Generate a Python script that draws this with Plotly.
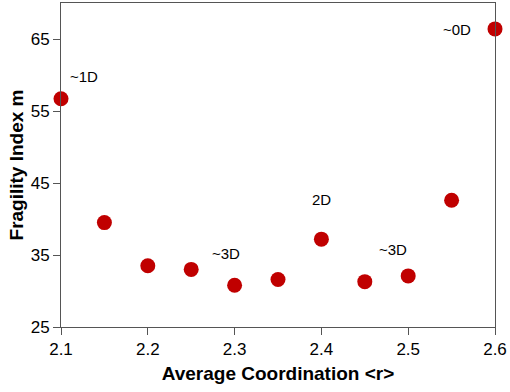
import plotly.graph_objects as go

coordination = [2.10, 2.15, 2.20, 2.25, 2.30, 2.35, 2.40, 2.45, 2.50, 2.55, 2.60]
fragility = [56.7, 39.5, 33.5, 33.0, 30.8, 31.6, 37.2, 31.3, 32.1, 42.6, 66.4]

label_text = ["~1D", "~0D", "2D", "~3D", "~3D"]
label_x = [2.1265, 2.556, 2.4003, 2.29, 2.483]
label_y = [59.8, 66.3, 42.7, 35.2, 35.8]

fig = go.Figure()
fig.add_trace(go.Scatter(
    x=coordination, y=fragility, mode="markers",
    marker=dict(size=15, color="#C00000", line=dict(width=0)),
    cliponaxis=False, showlegend=False,
))

for t, x, y in zip(label_text, label_x, label_y):
    fig.add_annotation(x=x, y=y, text=t, showarrow=False,
                       font=dict(family="Liberation Sans, Arial", size=15, color="black"))

fig.update_layout(
    width=510, height=392,
    margin=dict(l=61, r=15, t=3, b=65),
    paper_bgcolor="white", plot_bgcolor="white",
    font=dict(family="Liberation Sans, Arial", color="black"),
    xaxis=dict(
        range=[2.1, 2.6], tickvals=[2.1, 2.2, 2.3, 2.4, 2.5, 2.6],
        ticktext=["2.1", "2.2", "2.3", "2.4", "2.5", "2.6"],
        ticks="outside", ticklen=7, tickcolor="#555", tickwidth=1,
        showline=True, linecolor="#555", linewidth=1, mirror=True,
        showgrid=False, zeroline=False,
        tickfont=dict(size=17),
        title=dict(text="<b>Average Coordination &lt;r&gt;</b>", font=dict(size=19), standoff=8),
    ),
    yaxis=dict(
        range=[25, 70], tickvals=[25, 35, 45, 55, 65],
        ticks="outside", ticklen=7, tickcolor="#555", tickwidth=1,
        showline=True, linecolor="#555", linewidth=1, mirror=True,
        showgrid=False, zeroline=False,
        tickfont=dict(size=17),
        title=dict(text="<b>Fragility Index m</b>", font=dict(size=19), standoff=2),
    ),
)

fig.write_html("out.html", config={"displayModeBar": False},
               post_script="document.body.style.margin='0';")
